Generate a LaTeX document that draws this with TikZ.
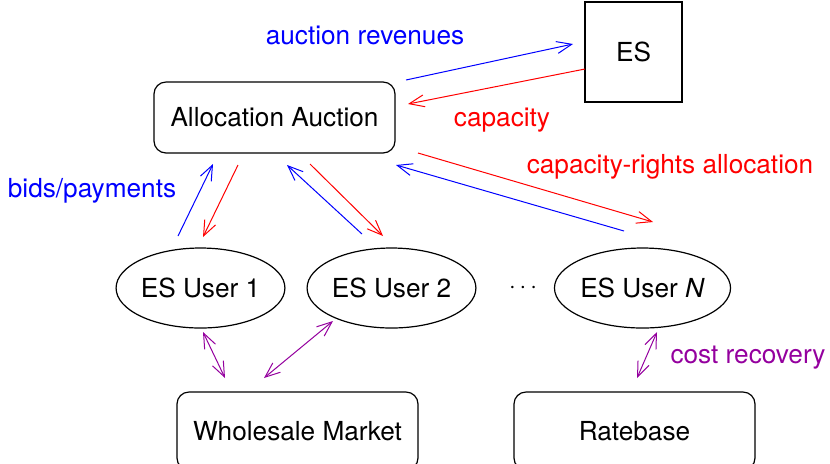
\documentclass[tikz,border=0pt]{standalone}
\usepackage{fontspec}
\setmainfont{TeX Gyre Heros}
\usetikzlibrary{arrows.meta,shapes.geometric}
\definecolor{mypurple}{rgb}{0.58,0,0.62}
\tikzset{
  every node/.style={font=\fontsize{13.1}{15.7}\selectfont},
  rbox/.style={draw,line width=0.6pt,rounded corners=6pt,minimum width=120.5pt,minimum height=35.5pt,inner sep=0pt},
  bbox/.style={rbox,minimum height=39pt},
  sqbox/.style={draw,line width=0.6pt,minimum width=48.5pt,minimum height=50pt,inner sep=0pt},
  user/.style={draw,ellipse,line width=0.6pt,minimum width=82.5pt,minimum height=40pt,inner sep=0pt},
  conn/.style={line width=0.5pt,-{Straight Barb[length=7.5pt,width=6pt]}},
  dconn/.style={line width=0.5pt,{Straight Barb[length=7.5pt,width=6pt]}-{Straight Barb[length=7.5pt,width=6pt]},draw=mypurple}
}
\begin{document}
\begin{tikzpicture}[x=0.5pt,y=-0.5pt]
\useasboundingbox (0,0) rectangle (830,463);
\node[sqbox] (es) at (633.5,52) {ES};
\node[rbox] (aa) at (274.5,117.5) {Allocation Auction};
\node[user] (u1) at (200.5,288) {ES User 1};
\node[user] (u2) at (391.5,288) {ES User 2};
\node[user] (un) at (642.5,288) {ES User \textit{N}};
\node (dots) at (523,288) {$\cdots$};
\node[bbox] (wm) at (297.5,431) {Wholesale Market};
\node[bbox] (rb) at (634.5,431) {Ratebase};

\node[text=blue] (lrev) at (365,35) {auction revenues};
\node[text=red] (lcap) at (502,120) {capacity};
\node[text=red] (lcra) at (670,167) {capacity-rights allocation};
\node[text=blue] (lbid) at (92,191) {bids/payments};
\node[text=mypurple] (lcost) at (748,358) {cost recovery};

\coordinate (a1s) at (406,80);  \coordinate (a1e) at (573,44);
\coordinate (a2s) at (585,69);  \coordinate (a2e) at (408,104);
\coordinate (b1s) at (178,236); \coordinate (b1e) at (213,164);
\coordinate (b2s) at (238,165); \coordinate (b2e) at (203,237);
\coordinate (c1s) at (362,234); \coordinate (c1e) at (287,165);
\coordinate (c2s) at (310,164); \coordinate (c2e) at (383,236);
\coordinate (d1s) at (418,153); \coordinate (d1e) at (653,222);
\coordinate (d2s) at (624,231); \coordinate (d2e) at (396,165);
\coordinate (p1s) at (203,332); \coordinate (p1e) at (225,378);
\coordinate (p2s) at (264,378); \coordinate (p2e) at (333,321);
\coordinate (p3s) at (657,332); \coordinate (p3e) at (637,378);

\draw[conn,blue] (a1s) -- (a1e);
\draw[conn,red] (a2s) -- (a2e);
\draw[conn,blue] (b1s) -- (b1e);
\draw[conn,red] (b2s) -- (b2e);
\draw[conn,blue] (c1s) -- (c1e);
\draw[conn,red] (c2s) -- (c2e);
\draw[conn,red] (d1s) -- (d1e);
\draw[conn,blue] (d2s) -- (d2e);
\draw[dconn] (p1s) -- (p1e);
\draw[dconn] (p2s) -- (p2e);
\draw[dconn] (p3s) -- (p3e);
\end{tikzpicture}
\end{document}
